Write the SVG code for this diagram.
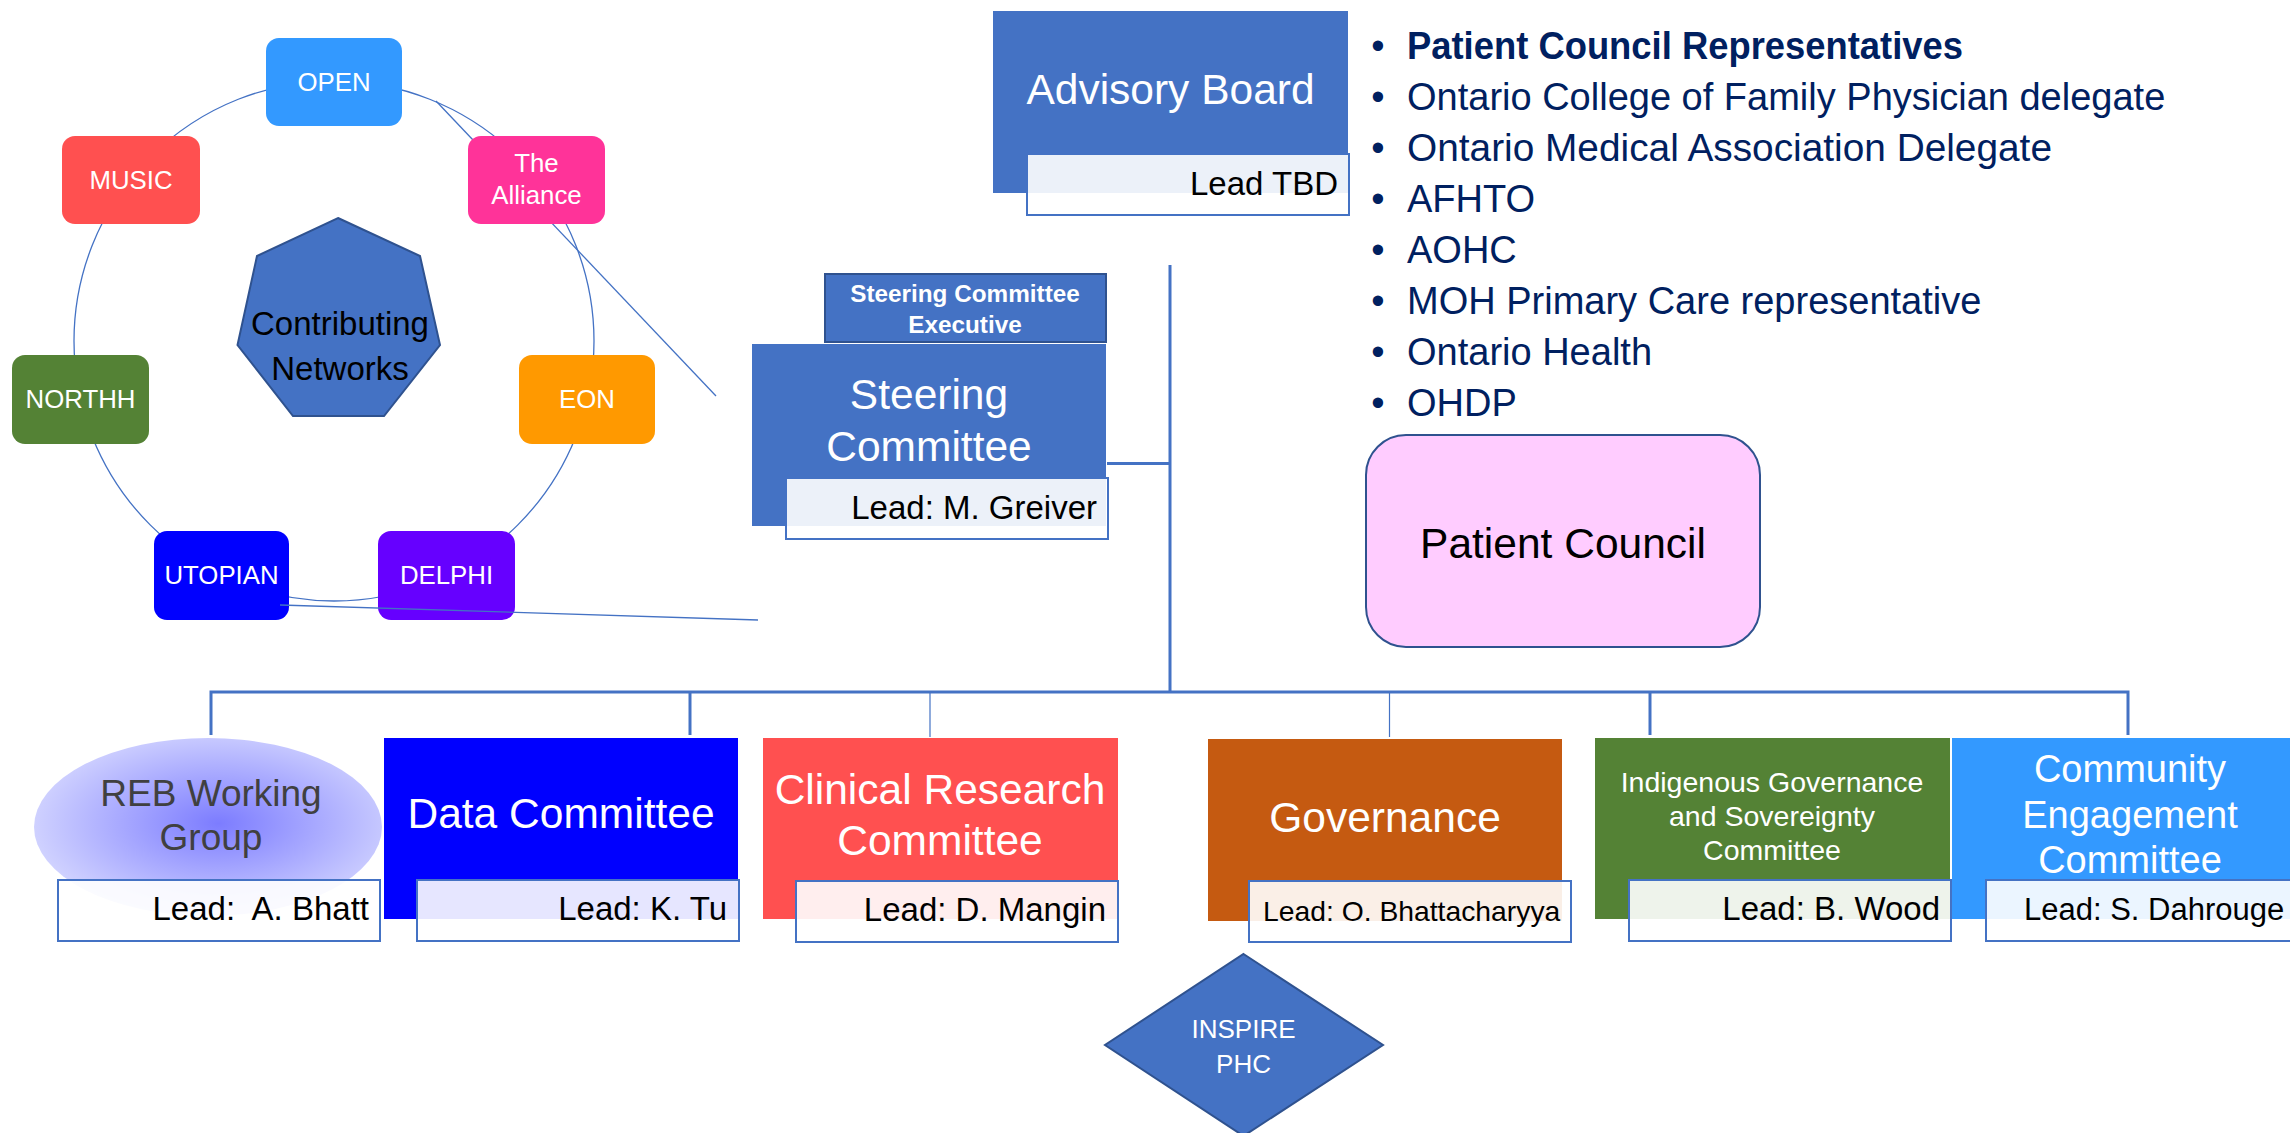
<svg xmlns="http://www.w3.org/2000/svg" width="2290" height="1133" viewBox="0 0 2290 1133">
<defs>
<radialGradient id="rebGrad" cx="0.53" cy="0.48" r="0.55">
<stop offset="0" stop-color="#7C7CFF"/>
<stop offset="1" stop-color="#D2D4FF"/>
</radialGradient>
<style>
text{font-family:"Liberation Sans",Arial,sans-serif}
.net{fill:#fff;font-size:25.8px;text-anchor:middle}
.title{fill:#fff;font-size:42.5px;text-anchor:middle}
.lead{fill:#000;font-size:33px;text-anchor:end}
.leadbox{fill:#fff;fill-opacity:.9;stroke:#4472C4;stroke-width:2}
.thin{stroke:#4472C4;stroke-width:1.3;fill:none}
.bus{stroke:#4472C4;stroke-width:3;fill:none}
.drop{stroke:#4472C4;stroke-width:1.2;fill:none}
.bul{fill:#002060;font-size:38px}
.blue{fill:#4472C4}
</style>
</defs>
<rect width="2290" height="1133" fill="#fff"/>

<g id="connectors">
<circle class="thin" cx="334" cy="341" r="260"/>
<line class="thin" x1="436" y1="101" x2="716" y2="396"/>
<line class="bus" x1="1170" y1="265" x2="1170" y2="692"/>
<line class="bus" x1="1107" y1="463.5" x2="1170" y2="463.5"/>
<polyline class="bus" points="211,735 211,692 2128,692 2128,735"/>
<line class="bus" x1="690" y1="692" x2="690" y2="735"/>
<line class="bus" x1="1650" y1="692" x2="1650" y2="735"/>
<line class="drop" x1="930" y1="692" x2="930" y2="737"/>
<line class="drop" x1="1389.5" y1="692" x2="1389.5" y2="737"/>
</g>

<g id="net-open"><rect x="266" y="38" width="136" height="88" rx="13" fill="#3399FF"/><text class="net" x="334" y="91">OPEN</text></g>
<g id="net-music"><rect x="62" y="136" width="138" height="88" rx="13" fill="#FF5050"/><text class="net" x="131" y="189">MUSIC</text></g>
<g id="net-alliance"><rect x="468" y="136" width="137" height="88" rx="13" fill="#FF3399"/><text class="net" x="536.5" y="172">The</text><text class="net" x="536.5" y="204">Alliance</text></g>
<g id="net-northh"><rect x="12" y="355" width="137" height="89" rx="13" fill="#548235"/><text class="net" x="80.5" y="408">NORTHH</text></g>
<g id="net-eon"><rect x="519" y="355" width="136" height="89" rx="13" fill="#FF9900"/><text class="net" x="587" y="408">EON</text></g>
<g id="net-utopian"><rect x="154" y="531" width="135" height="89" rx="13" fill="#0000FF"/><text class="net" x="221.5" y="584">UTOPIAN</text></g>
<g id="net-delphi"><rect x="378" y="531" width="137" height="89" rx="13" fill="#6600FF"/><text class="net" x="446.5" y="584">DELPHI</text></g>

<g id="contributing">
<polygon points="338,218 420,256 440,345 384,416 293,416 237.5,345 257,256" fill="#4472C4" stroke="#2F528F" stroke-width="2"/>
<text x="340" y="335" font-size="33" text-anchor="middle" fill="#000">Contributing</text>
<text x="340" y="380" font-size="33" text-anchor="middle" fill="#000">Networks</text>
</g>

<g id="callout-line"><line class="thin" x1="280" y1="605" x2="758" y2="620"/></g>

<g id="advisory">
<rect class="blue" x="993" y="11" width="355" height="182"/>
<text class="title" x="1170.5" y="104">Advisory Board</text>
<rect class="leadbox" x="1027" y="154" width="322" height="61"/>
<text class="lead" x="1338" y="195">Lead TBD</text>
</g>

<g id="steering-exec">
<rect x="825" y="274" width="281" height="68" fill="#4472C4" stroke="#2F528F" stroke-width="2"/>
<text x="965" y="302" font-size="24.3" font-weight="bold" fill="#fff" text-anchor="middle">Steering Committee</text>
<text x="965" y="333" font-size="24.3" font-weight="bold" fill="#fff" text-anchor="middle">Executive</text>
</g>

<g id="steering">
<rect class="blue" x="752" y="344" width="354" height="182"/>
<text class="title" x="929" y="409">Steering</text>
<text class="title" x="929" y="461">Committee</text>
<rect class="leadbox" x="786" y="478" width="322" height="61"/>
<text class="lead" x="1097" y="519">Lead: M. Greiver</text>
</g>

<g id="advisory-members">
<text class="bul" x="1378" y="59" text-anchor="middle">•</text><text class="bul" x="1407" y="59" font-weight="bold" textLength="556" lengthAdjust="spacingAndGlyphs">Patient Council Representatives</text>
<text class="bul" x="1378" y="110" text-anchor="middle">•</text><text class="bul" x="1407" y="110">Ontario College of Family Physician delegate</text>
<text class="bul" x="1378" y="161" text-anchor="middle">•</text><text class="bul" x="1407" y="161" textLength="645" lengthAdjust="spacingAndGlyphs">Ontario Medical Association Delegate</text>
<text class="bul" x="1378" y="212" text-anchor="middle">•</text><text class="bul" x="1407" y="212">AFHTO</text>
<text class="bul" x="1378" y="263" text-anchor="middle">•</text><text class="bul" x="1407" y="263">AOHC</text>
<text class="bul" x="1378" y="314" text-anchor="middle">•</text><text class="bul" x="1407" y="314">MOH Primary Care representative</text>
<text class="bul" x="1378" y="365" text-anchor="middle">•</text><text class="bul" x="1407" y="365">Ontario Health</text>
<text class="bul" x="1378" y="416" text-anchor="middle">•</text><text class="bul" x="1407" y="416">OHDP</text>
</g>

<g id="patient-council">
<rect x="1366" y="435" width="394" height="212" rx="40" fill="#FFCCFF" stroke="#2F528F" stroke-width="2"/>
<text x="1563" y="558" font-size="42.5" text-anchor="middle" fill="#000">Patient Council</text>
</g>

<g id="reb">
<ellipse cx="208" cy="827" rx="174" ry="89" fill="url(#rebGrad)"/>
<text x="211" y="806" font-size="37" text-anchor="middle" fill="#404040">REB Working</text>
<text x="211" y="850" font-size="37" text-anchor="middle" fill="#404040">Group</text>
<rect class="leadbox" x="58" y="880" width="322" height="61"/>
<text class="lead" x="369" y="920" xml:space="preserve">Lead:  A. Bhatt</text>
</g>

<g id="data">
<rect x="384" y="738" width="354" height="181" fill="#0000FF"/>
<text class="title" x="561" y="828">Data Committee</text>
<rect class="leadbox" x="417" y="880" width="322" height="61"/>
<text class="lead" x="727" y="920">Lead: K. Tu</text>
</g>

<g id="clinical">
<rect x="763" y="738" width="355" height="181" fill="#FF5050"/>
<text class="title" x="940" y="804">Clinical Research</text>
<text class="title" x="940" y="855">Committee</text>
<rect class="leadbox" x="796" y="881" width="322" height="61"/>
<text class="lead" x="1106" y="921">Lead: D. Mangin</text>
</g>

<g id="governance">
<rect x="1208" y="739" width="354" height="182" fill="#C55A11"/>
<text class="title" x="1385" y="832">Governance</text>
<rect class="leadbox" x="1249" y="881" width="322" height="61"/>
<text x="1263" y="921" font-size="28.3" fill="#000">Lead: O. Bhattacharyya</text>
</g>

<g id="indigenous">
<rect x="1595" y="738" width="355" height="181" fill="#548235"/>
<text x="1772" y="792" font-size="28.5" fill="#fff" text-anchor="middle">Indigenous Governance</text>
<text x="1772" y="826" font-size="28.5" fill="#fff" text-anchor="middle">and Sovereignty</text>
<text x="1772" y="860" font-size="28.5" fill="#fff" text-anchor="middle">Committee</text>
<rect class="leadbox" x="1629" y="880" width="322" height="61"/>
<text class="lead" x="1940" y="920">Lead: B. Wood</text>
</g>

<g id="community">
<rect x="1952" y="738" width="356" height="181" fill="#3399FF"/>
<text x="2130" y="782" font-size="38" fill="#fff" text-anchor="middle">Community</text>
<text x="2130" y="828" font-size="38" fill="#fff" text-anchor="middle">Engagement</text>
<text x="2130" y="873" font-size="38" fill="#fff" text-anchor="middle">Committee</text>
<rect class="leadbox" x="1986" y="880" width="340" height="61"/>
<text x="2024" y="920" font-size="31" fill="#000">Lead: S. Dahrouge</text>
</g>

<g id="inspire">
<polygon points="1243.5,954 1383,1045 1243.5,1136 1105,1045" fill="#4472C4" stroke="#2F528F" stroke-width="2"/>
<text x="1243.5" y="1038" font-size="26" fill="#fff" text-anchor="middle">INSPIRE</text>
<text x="1243.5" y="1073" font-size="26" fill="#fff" text-anchor="middle">PHC</text>
</g>
</svg>
